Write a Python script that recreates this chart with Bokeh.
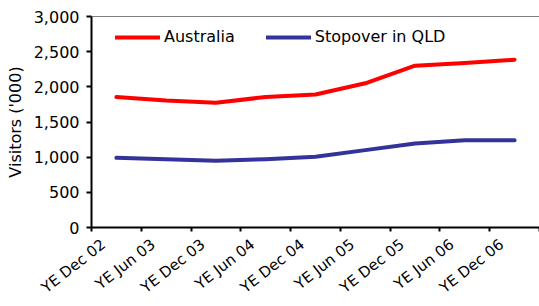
import math
from bokeh.plotting import figure
from bokeh.models import (Range1d, FixedTicker, NumeralTickFormatter, Legend, LegendItem, Span,
                          CustomJSTickFormatter)
from bokeh.embed import file_html
from bokeh.resources import INLINE

periods = ["YE Dec 02", "YE Jun 03", "YE Dec 03", "YE Jun 04", "YE Dec 04",
           "YE Jun 05", "YE Dec 05", "YE Jun 06", "YE Dec 06"]
australia = [1855, 1805, 1775, 1855, 1890, 2050, 2300, 2340, 2385]
stopover_qld = [990, 970, 950, 970, 1005, 1100, 1195, 1240, 1240]
y_ticks = [0, 500, 1000, 1500, 2000, 2500, 3000]

FONT = "DejaVu Sans"
xs = list(range(len(periods)))
LABEL_SHIFT = 0.26

p = figure(width=539, height=306, output_backend="svg", toolbar_location=None,
           x_range=Range1d(-0.5, len(periods) - 0.5), y_range=Range1d(0, 3000),
           min_border_left=91, min_border_right=0, min_border_top=16, min_border_bottom=78)
p.outline_line_color = None
p.grid.visible = False
p.background_fill_color = "white"
p.border_fill_color = "white"

r1 = p.line(xs, australia, line_color="#FF0000", line_width=4, line_join="round", line_cap="round")
r2 = p.line(xs, stopover_qld, line_color="#333399", line_width=4, line_join="round", line_cap="round")

p.add_layout(Span(location=3000, dimension="width", line_color="black", line_width=1))

# y axis
ya = p.yaxis[0]
ya.ticker = FixedTicker(ticks=y_ticks)
ya.formatter = NumeralTickFormatter(format="0,0")
ya.axis_line_width = 2
ya.major_tick_line_width = 2
ya.major_tick_out = 5
ya.major_tick_in = 0
ya.minor_tick_line_color = None
ya.major_label_standoff = 7
ya.major_label_text_font = FONT
ya.major_label_text_font_size = "16px"
ya.major_label_text_color = "black"
ya.axis_label = "Visitors ('000)"
ya.axis_label_text_font = FONT
ya.axis_label_text_font_size = "16px"
ya.axis_label_text_font_style = "normal"
ya.axis_label_text_color = "black"
ya.axis_label_standoff = 6

# x axis: tick marks between categories, labels at category centres
xa = p.xaxis[0]
xa.ticker = FixedTicker(ticks=[i - LABEL_SHIFT for i in xs],
                        minor_ticks=[i - 0.5 for i in range(len(periods) + 1)])
xa.formatter = CustomJSTickFormatter(args=dict(labels=periods, shift=LABEL_SHIFT),
                                     code="return labels[Math.round(tick + shift)];")
xa.major_tick_line_color = None
xa.major_tick_out = 0
xa.minor_tick_line_color = "black"
xa.minor_tick_line_width = 2
xa.minor_tick_out = 4
xa.minor_tick_in = 0
xa.axis_line_width = 2
xa.major_label_orientation = math.radians(38)
xa.major_label_standoff = 11
xa.major_label_text_font = FONT
xa.major_label_text_font_size = "15px"
xa.major_label_text_color = "black"

legend = Legend(items=[LegendItem(label="Australia", renderers=[r1]),
                       LegendItem(label="Stopover in QLD", renderers=[r2])],
                orientation="horizontal", location=(24, 181),
                glyph_width=45, glyph_height=16, label_height=16, label_standoff=4,
                spacing=31, padding=0, margin=0,
                border_line_color=None, background_fill_alpha=0,
                label_text_font=FONT, label_text_font_size="16px", label_text_color="black")
p.add_layout(legend)

open("out.html", "w").write(file_html(p, INLINE))
